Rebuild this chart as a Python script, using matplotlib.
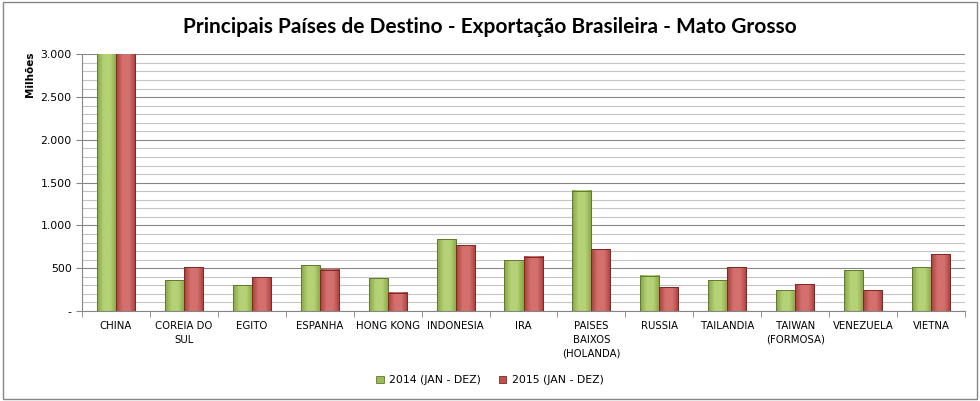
import numpy as np
import matplotlib.pyplot as plt
from matplotlib.colors import LinearSegmentedColormap
from matplotlib.patches import Rectangle
from matplotlib.ticker import FuncFormatter, MultipleLocator

paises = ['CHINA', 'COREIA DO\nSUL', 'EGITO', 'ESPANHA', 'HONG KONG', 'INDONESIA', 'IRA',
          'PAISES\nBAIXOS\n(HOLANDA)', 'RUSSIA', 'TAILANDIA', 'TAIWAN\n(FORMOSA)',
          'VENEZUELA', 'VIETNA']
# valores em milhoes (US$); China passa do limite do eixo
exp_2014 = [3500, 362, 300, 533, 381, 837, 595, 1404, 412, 358, 245, 479, 514]
exp_2015 = [3300, 510, 393, 482, 214, 767, 634, 724, 280, 514, 315, 245, 662]
series = ['2014 (JAN - DEZ)', '2015 (JAN - DEZ)']

GREEN = '#9BBB59'
RED = '#C0504D'
YMAX = 3000


def gradient_bars(ax, bars, dark, light):
    """pinta cada barra com um degrade horizontal, estilo Excel"""
    cmap = LinearSegmentedColormap.from_list('g', [dark, light, light, dark])
    grad = np.linspace(0, 1, 64).reshape(1, -1)
    for b in bars:
        x, w, h = b.get_x(), b.get_width(), min(b.get_height(), YMAX)
        ax.imshow(grad, extent=[x, x + w, 0, h], cmap=cmap, aspect='auto',
                  zorder=2, interpolation='bicubic')
        b.set_facecolor('none')
        b.set_zorder(3)


fig = plt.figure(figsize=(9.8, 4.01), dpi=100)
ax = fig.add_axes([0.0837, 0.2244, 0.901, 0.6402])

x = np.arange(len(paises))
w = 0.28
b1 = ax.bar(x - w / 2, exp_2014, w, color=GREEN, edgecolor='#5F7A2F', linewidth=0.7,
            label=series[0])
b2 = ax.bar(x + w / 2, exp_2015, w, color=RED, edgecolor='#7E2826', linewidth=0.7,
            label=series[1])
gradient_bars(ax, b1, '#86A545', '#B5D276')
gradient_bars(ax, b2, '#A8403D', '#D4706D')

ax.set_xlim(-0.5, len(paises) - 0.5)
ax.set_ylim(0, YMAX)
ax.yaxis.set_major_locator(MultipleLocator(500))
ax.yaxis.set_minor_locator(MultipleLocator(100))
ax.yaxis.set_major_formatter(FuncFormatter(
    lambda v, _: '-' if v == 0 else f'{int(v):,}'.replace(',', '.')))
ax.grid(axis='y', which='major', color='#868686', linewidth=0.8, zorder=0)
ax.grid(axis='y', which='minor', color='#C4C4C4', linewidth=0.8, zorder=0)
ax.set_axisbelow(True)

ax.set_xticks(x)
ax.set_xticklabels(paises, fontsize=7.3, linespacing=1.5)
ax.set_xticks(np.arange(len(paises) + 1) - 0.5, minor=True)
ax.tick_params(axis='x', which='major', length=0, pad=7)
ax.tick_params(axis='x', which='minor', length=4, color='#868686')
ax.tick_params(axis='y', which='major', labelsize=7.8, length=4, color='#868686')
ax.tick_params(axis='y', which='minor', length=0)

for s in ['top', 'right']:
    ax.spines[s].set_visible(False)
for s in ['left', 'bottom']:
    ax.spines[s].set_color('#868686')

fig.text(0.031, 0.815, 'Milhões', rotation=90, fontsize=7.5, fontweight='bold',
         ha='center', va='center')
fig.suptitle('Principais Países de Destino - Exportação Brasileira - Mato Grosso',
             x=0.5, y=0.958, fontsize=15, fontweight='bold', family='Lato')

handles = [Rectangle((0, 0), 1, 1, facecolor=GREEN, edgecolor='#5F7A2F', linewidth=0.6),
           Rectangle((0, 0), 1, 1, facecolor=RED, edgecolor='#7E2826', linewidth=0.6)]
fig.legend(handles, series, loc='center', bbox_to_anchor=(0.5, 0.052), ncol=2,
           frameon=False, fontsize=7.8, handlelength=0.7, handleheight=0.7,
           columnspacing=1.6, handletextpad=0.5)

fig.add_artist(Rectangle((0.003, 0.006), 0.994, 0.988, transform=fig.transFigure,
                         fill=False, edgecolor='#868686', linewidth=1))

fig.savefig('out.png', dpi=100)
